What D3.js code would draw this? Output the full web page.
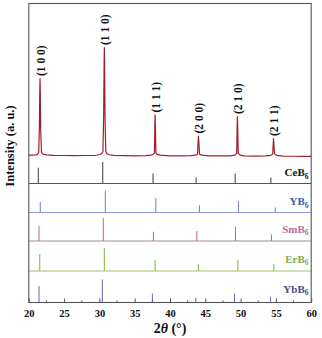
<!DOCTYPE html>
<html>
<head>
<meta charset="utf-8">
<script src="https://cdn.jsdelivr.net/npm/d3@7"></script>
<style>
  html, body { margin: 0; padding: 0; background: #fff; }
  svg { display: block; }
  text { font-family: "Liberation Serif", "DejaVu Serif", serif; font-weight: bold; }
</style>
</head>
<body>
<svg id="chart" width="322" height="338"></svg>
<script>
// ---------------- DATA ----------------
// experimental XRD pattern: [2theta, relative intensity]
const expPattern = [
  [20.0,0.4],[20.5,0.3],[21.0,0.6],[21.2,1.0],[21.4,2.6],[21.5,25],[21.55,57],[21.59,71.3],[21.63,57],[21.68,25],[21.8,2.8],[22.0,1.2],[22.5,0.5],
  [23.5,0.2],[25,0],[26.5,-0.2],[28,0],[29.5,0.2],[30.1,0.9],[30.3,1.6],[30.5,3.5],[30.6,35],[30.66,80],[30.70,100],[30.74,80],[30.8,35],[30.9,3.6],
  [31.1,1.5],[31.4,0.7],[32,0.2],[33.5,-0.1],[35,-0.3],[36.5,-0.2],[37.3,0.4],[37.6,1.0],[37.8,2.5],[37.85,28],[37.89,37.5],[37.93,28],[38.0,2.5],
  [38.2,1],[38.6,0.3],[40,-0.3],[41.5,-0.3],[43,-0.2],[43.6,0.3],[43.9,1.2],[43.98,13],[44.03,18],[44.08,13],[44.18,1.3],[44.5,0.3],[45.5,-0.3],
  [47,-0.4],[48.5,-0.3],[49.2,0.4],[49.45,2.0],[49.51,26],[49.55,36],[49.59,26],[49.66,2.2],[49.9,0.5],[50.5,-0.3],[52,-0.5],[53.5,-0.4],
  [54.3,0.2],[54.55,1.4],[54.62,11],[54.66,15.7],[54.7,12],[54.76,6],[54.82,1.5],[55.1,0.2],[56,-0.6],[57.5,-0.7],[59,-0.8],[60,-0.8]
];
// indexed experimental peaks
const peakLabels = ["(1 0 0)", "(1 1 0)", "(1 1 1)", "(2 0 0)", "(2 1 0)", "(2 1 1)"];
const peakPos    = [21.59, 30.70, 37.89, 44.03, 49.55, 54.66];
const peakInt    = [71.3, 100, 37.5, 18, 36, 15.7];

// reference patterns (stick positions and relative intensities)
const refNames = ["CeB", "YB", "SmB", "ErB", "YbB"];
const refPos = [
  [21.35, 30.47, 37.60, 43.70, 49.23, 54.29],
  [21.63, 30.84, 37.99, 44.17, 49.70, 54.90],
  [21.45, 30.56, 37.65, 43.80, 49.27, 54.37],
  [21.55, 30.70, 37.89, 44.03, 49.61, 54.71],
  [21.45, 30.42, 37.51, 43.66, 49.13, 54.23]
];
const refInt = [
  [68, 94, 43, 26, 43, 26],
  [46, 97, 63, 32, 50, 22],
  [65, 99, 40, 43, 62, 29],
  [74, 100, 48, 30, 48, 30],
  [71, 100, 39, 22, 39, 25]
];
const xTicks = [20, 25, 30, 35, 40, 45, 50, 55, 60];

// ---------------- LAYOUT / STYLE ----------------
const svg = d3.select("#chart");
const L = 28.8, R = 311.2, T = 3.5, B = 302.5;
const refBase = [183.5, 212.5, 241, 271, 302.5];
const stickColor = ["#505050", "#7c8cc8", "#c8708e", "#92b448", "#7474c4"];
const baseColor  = ["#555555", "#8a9ad8", "#a48c9c", "#a2c26e", "#666677"];
const labelColor = ["#111111", "#3a58a0", "#b46c98", "#86aa48", "#4a4a88"];

const x = d3.scaleLinear().domain([20, 60]).range([L, R]);
const yExp = d3.scaleLinear().domain([0, 100]).range([155.5, 47.5]);

svg.append("rect").attr("width", 322).attr("height", 338).attr("fill", "#fff");

// experimental curve
const line = d3.line().x(d => x(d[0])).y(d => yExp(d[1]));
svg.append("path").datum(expPattern)
  .attr("d", line).attr("fill", "none")
  .attr("stroke", "#a31e2c").attr("stroke-width", 1.2).attr("stroke-linejoin", "round");

// peak labels
svg.selectAll("text.hkl").data(peakLabels).enter().append("text")
  .attr("class", "hkl")
  .attr("transform", (d, i) => `translate(${x(peakPos[i]) + 1},${yExp(peakInt[i]) - 2.5}) rotate(-90)`)
  .attr("dominant-baseline", "central")
  .attr("font-size", 11.5)
  .attr("fill", "#111")
  .text(d => d);

// reference panels
refNames.forEach((name, k) => {
  const y = d3.scaleLinear().domain([0, 100]).range([refBase[k], refBase[k] - 23]);
  const g = svg.append("g");
  // baseline
  g.append("line").attr("x1", L).attr("x2", R)
    .attr("y1", y(0)).attr("y2", y(0))
    .attr("stroke", baseColor[k]).attr("stroke-width", 1.1);
  // sticks
  g.selectAll("line.stick").data(refPos[k]).enter().append("line")
    .attr("class", "stick")
    .attr("x1", d => x(d)).attr("x2", d => x(d))
    .attr("y1", y(0)).attr("y2", (d, i) => y(refInt[k][i]))
    .attr("stroke", stickColor[k]).attr("stroke-width", 1.1);
  // label
  const t = g.append("text")
    .attr("x", 308.5).attr("y", refBase[k] - 7.5 - (k >= 2 ? 1 : 0) - (k === 4 ? 1.5 : 0))
    .attr("text-anchor", "end")
    .attr("font-size", 11)
    .attr("fill", labelColor[k]);
  t.append("tspan").text(name);
  t.append("tspan").attr("font-size", 7.5).attr("dy", 2.8).text("6");
});

// frame
svg.append("rect").attr("x", L).attr("y", T).attr("width", R - L).attr("height", B - T)
  .attr("fill", "none").attr("stroke", "#555").attr("stroke-width", 1.1);

// x axis (inward ticks)
const xAxis = d3.axisBottom(x).tickValues(xTicks).tickSize(-4).tickPadding(7).tickFormat(d3.format("d"));
const ax = svg.append("g").attr("transform", `translate(0,${B})`).call(xAxis);
ax.select(".domain").remove();
ax.selectAll(".tick line").attr("stroke", "#555");
ax.selectAll(".tick text").attr("font-size", 10.5).attr("fill", "#111")
  .attr("font-family", "Liberation Serif, serif").attr("font-weight", "bold");
// minor ticks
const minor = d3.range(22.5, 60, 5);
svg.append("g").selectAll("line").data(minor).enter().append("line")
  .attr("x1", d => x(d)).attr("x2", d => x(d))
  .attr("y1", B).attr("y2", B - 2)
  .attr("stroke", "#555").attr("stroke-width", 1);

// axis titles
const xt = svg.append("text").attr("x", 170).attr("y", 333)
  .attr("text-anchor", "middle").attr("font-size", 14).attr("fill", "#111");
xt.append("tspan").text("2");
xt.append("tspan").attr("font-style", "italic").text("θ");
xt.append("tspan").text(" (°)");

svg.append("text")
  .attr("transform", "translate(10,146) rotate(-90)")
  .attr("text-anchor", "middle").attr("dominant-baseline", "central")
  .attr("font-size", 12.5).attr("fill", "#111")
  .text("Intensity (a. u.)");
</script>
</body>
</html>
